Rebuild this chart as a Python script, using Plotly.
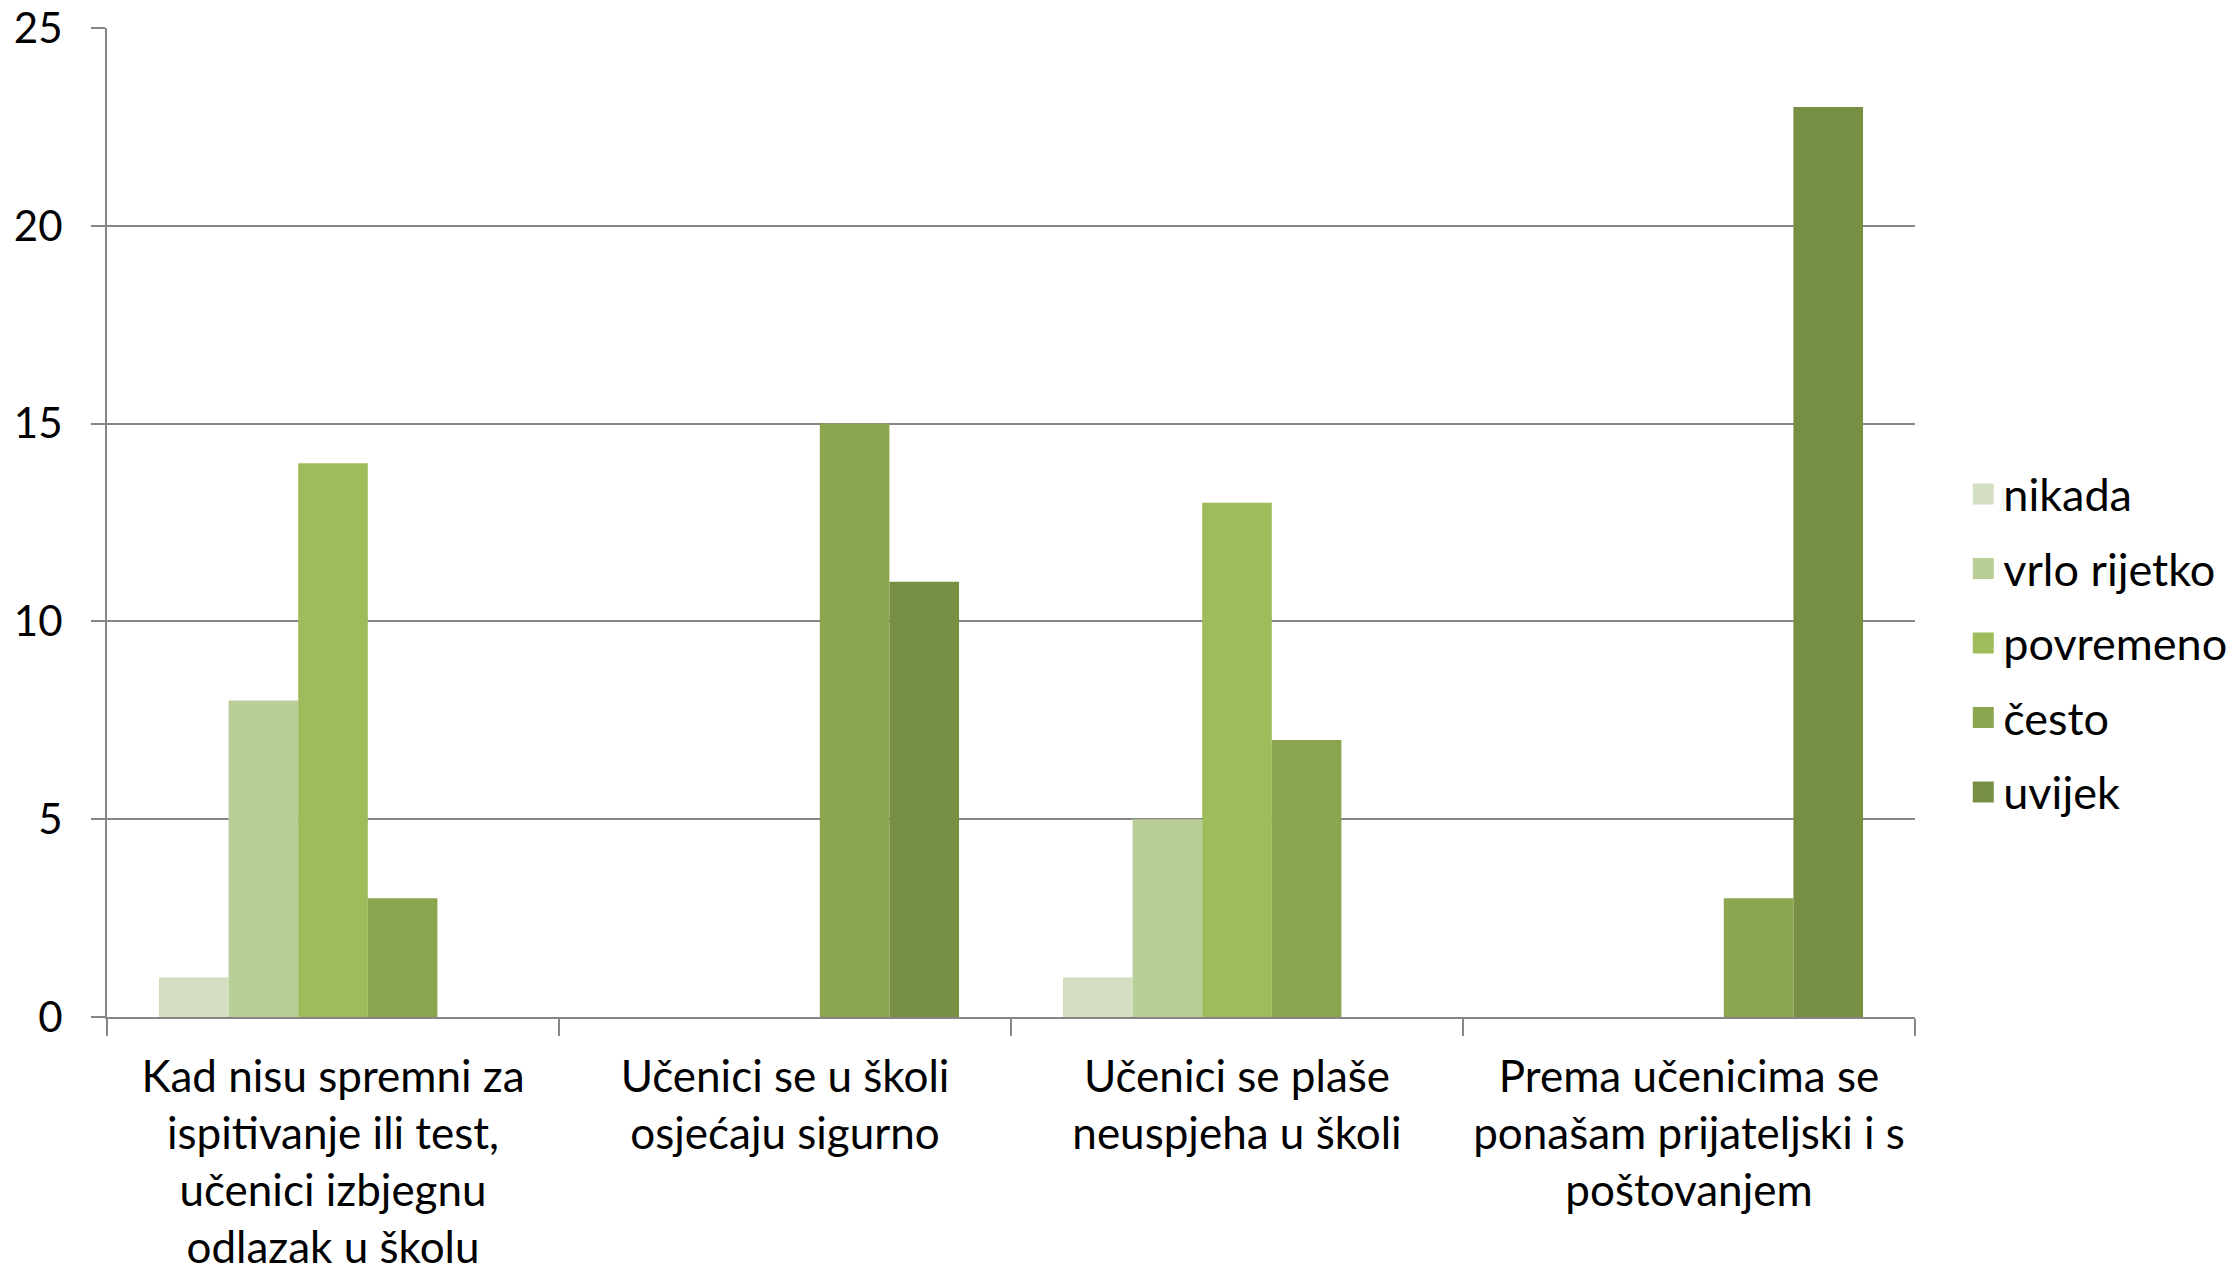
import plotly.graph_objects as go

categories = [
    "Kad nisu spremni za<br>ispitivanje ili test,<br>učenici izbjegnu<br>odlazak u školu",
    "Učenici se u školi<br>osjećaju sigurno",
    "Učenici se plaše<br>neuspjeha u školi",
    "Prema učenicima se<br>ponašam prijateljski i s<br>poštovanjem",
]
series_names = ["nikada", "vrlo rijetko", "povremeno", "često", "uvijek"]
nikada = [1, 0, 1, 0]
vrlo_rijetko = [8, 0, 5, 0]
povremeno = [14, 0, 13, 0]
cesto = [3, 15, 7, 3]
uvijek = [0, 11, 0, 23]
colors = ["#D3DFC0", "#BACE97", "#9EBC5B", "#8BA64F", "#778F43"]

series_values = [nikada, vrlo_rijetko, povremeno, cesto, uvijek]

FONT = "Lato"
fig = go.Figure()
for name, vals, col in zip(series_names, series_values, colors):
    fig.add_trace(go.Bar(
        x=categories, y=vals, name=name, marker=dict(color=col, line=dict(width=0)),
        legendgroup=name, showlegend=False,
    ))
# legend entries with larger square swatches
for name, col in zip(series_names, colors):
    fig.add_trace(go.Scatter(
        x=[None], y=[None], mode="markers", name=name, legendgroup=name,
        marker=dict(symbol="square", size=16, color=col, line=dict(color=col, width=10)),
        showlegend=True,
    ))

fig.update_layout(
    width=2218, height=1258,
    margin=dict(l=99, r=311, t=20, b=249, autoexpand=False),
    paper_bgcolor="white", plot_bgcolor="white",
    barmode="group", bargap=0.23, bargroupgap=0,
    font=dict(family=FONT, size=44, color="black"),
    legend=dict(
        x=1.0267, y=0.378, xanchor="left", yanchor="middle",
        font=dict(family=FONT, size=45, color="black"),
        tracegroupgap=13, itemwidth=30,
    ),
)
fig.update_xaxes(
    automargin=False,
    showline=True, linecolor="#868686", linewidth=2,
    ticks="outside", tickson="boundaries", ticklen=17, tickcolor="#868686", tickwidth=2,
    tickfont=dict(family=FONT, size=44, color="black"),
    ticklabelstandoff=20, ticklabeloverflow="allow",
    showgrid=False,
)
fig.update_yaxes(
    automargin=False,
    range=[0, 25], dtick=5, tick0=0,
    showline=True, linecolor="#868686", linewidth=2,
    ticks="outside", ticklen=14, tickcolor="#868686", tickwidth=2,
    showgrid=True, gridcolor="#868686", gridwidth=1.5, zeroline=False,
    tickfont=dict(family=FONT, size=42, color="black"),
    ticklabelstandoff=20, ticklabeloverflow="allow",
)

fig.write_html("out.html")
